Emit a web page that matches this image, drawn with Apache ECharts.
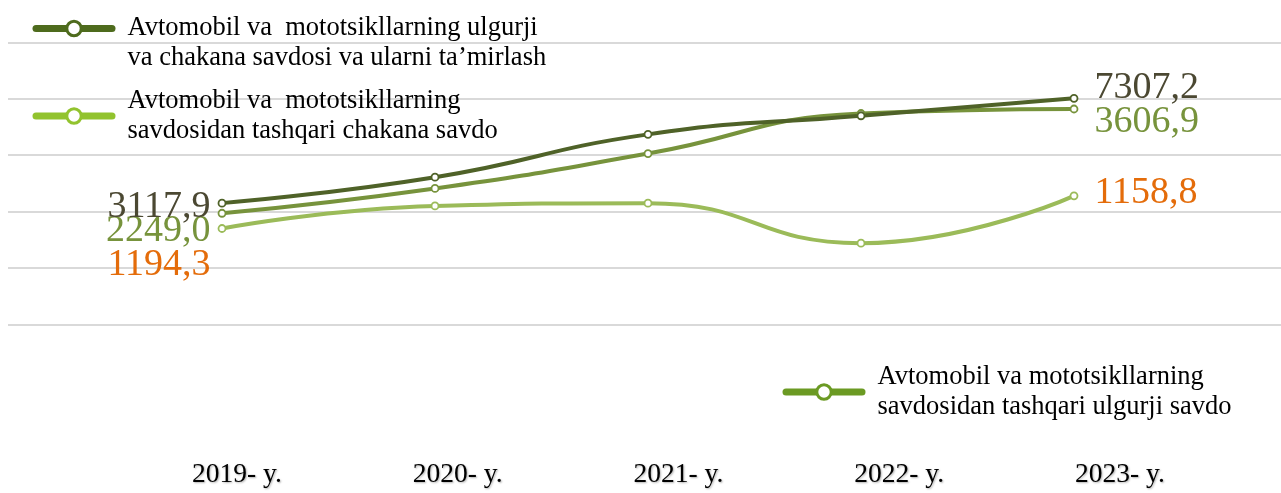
<!DOCTYPE html>
<html>
<head>
<meta charset="utf-8">
<script src="https://cdn.jsdelivr.net/npm/echarts@6/dist/echarts.min.js"></script>
<style>
  html, body { margin: 0; padding: 0; background: #fff; }
  #chart { width: 1281px; height: 493px; }
</style>
</head>
<body>
<div id="chart"></div>
<script>
// categories
var years = ['2019- y.', '2020- y.', '2021- y.', '2022- y.', '2023- y.'];

// series names (line breaks as in the legend)
var nameWholesaleRetail = 'Avtomobil va  mototsikllarning ulgurji\nva chakana savdosi va ularni ta\u2019mirlash';
var nameOutsideRetail = 'Avtomobil va  mototsikllarning\nsavdosidan tashqari chakana savdo';
var nameOutsideWholesale = 'Avtomobil va mototsikllarning\nsavdosidan tashqari ulgurji savdo';

// line heights (grid units, 0..5)
var wholesaleRetail = [2.15, 2.61, 3.37, 3.70, 4.01];
var outsideWholesale = [1.97, 2.41, 3.03, 3.74, 3.82];
var outsideRetail = [1.70, 2.10, 2.15, 1.44, 2.28];

// values written at the ends of the lines
var wholesaleRetailEnds = ['3117,9', '7307,2'];
var outsideWholesaleEnds = ['2249,0', '3606,9'];
var outsideRetailEnds = ['1194,3', '1158,8'];

var serif = '"Liberation Serif", "Times New Roman", serif';
var top0 = 42.5, bottom0 = 168.7;

function endLabel(text, side, color, dy) {
    return {
        show: true,
        position: side,
        distance: side == 'left' ? 7 : 16,
        offset: [0, dy],
        formatter: text,
        color: color,
        fontFamily: serif,
        fontSize: 38
    };
}

function makeSeries(name, values, ends, color, labelColor, dyStart, dyEnd) {
    var last = values.length - 1;
    var data = values.map(function (v, i) {
        var item = {value: v};
        if (i === 0) {
            item.label = endLabel(ends[0], 'left', labelColor, dyStart);
        } else if (i === last) {
            item.label = endLabel(ends[1], 'right', labelColor, dyEnd);
        }
        return item;
    });
    return {
        name: name,
        type: 'line',
        xAxisIndex: 1,
        yAxisIndex: 1,
        smooth: true,
        symbol: 'circle',
        symbolSize: 7,
        lineStyle: {color: color, width: 4},
        itemStyle: {color: '#fff', borderColor: color, borderWidth: 1.8},
        emphasis: {disabled: true},
        data: data
    };
}

function legendItem(name, color) {
    return {
        name: name,
        itemStyle: {color: '#fff', borderColor: color, borderWidth: 3},
        lineStyle: {color: color, width: 7, cap: 'round'}
    };
}

var legendText = {color: '#000', fontFamily: serif, fontSize: 26.5, lineHeight: 30, padding: [0, 0, 0, 10.5]};

var option = {
    animation: false,
    backgroundColor: '#fff',
    grid: [
        {left: 8, right: 0, top: top0, bottom: bottom0},
        {left: 222, right: 207, top: top0, bottom: bottom0},
        {left: 126.6, right: 50.6, top: top0, bottom: bottom0}
    ],
    xAxis: [
        {gridIndex: 0, type: 'value', min: 0, max: 1, show: false},
        {gridIndex: 1, type: 'category', boundaryGap: false, data: years, show: false},
        {
            gridIndex: 2, type: 'category', data: years,
            axisLine: {show: false}, axisTick: {show: false},
            axisLabel: {
                margin: 136, color: '#000', fontFamily: serif, fontSize: 27.5,
                textShadowColor: 'rgba(0,0,0,0.3)', textShadowBlur: 2,
                textShadowOffsetX: 1, textShadowOffsetY: 1
            }
        }
    ],
    yAxis: [
        {
            gridIndex: 0, type: 'value', min: 0, max: 5, interval: 1,
            axisLine: {show: false}, axisTick: {show: false}, axisLabel: {show: false},
            splitLine: {lineStyle: {color: '#d9d9d9', width: 2}}
        },
        {gridIndex: 1, type: 'value', min: 0, max: 5, interval: 1, show: false, splitLine: {show: false}},
        {gridIndex: 2, type: 'value', min: 0, max: 5, interval: 1, show: false, splitLine: {show: false}}
    ],
    legend: [
        {
            // icon sits on the first text line: a blank line above centres it there
            data: [legendItem(nameWholesaleRetail, '#4e6b1d')],
            formatter: function (name) { return '\n' + name; },
            left: 32.5, bottom: 419.5, padding: 0,
            itemWidth: 76, itemHeight: 18,
            selectedMode: false,
            textStyle: legendText
        },
        {
            data: [legendItem(nameOutsideRetail, '#92c32e')],
            left: 32.5, top: 86, padding: 0,
            itemWidth: 76, itemHeight: 18,
            selectedMode: false,
            textStyle: legendText
        },
        {
            data: [legendItem(nameOutsideWholesale, '#6b9a23')],
            left: 782.5, top: 362, padding: 0,
            itemWidth: 76, itemHeight: 18,
            selectedMode: false,
            textStyle: legendText
        }
    ],
    series: [
        makeSeries(nameOutsideRetail, outsideRetail, outsideRetailEnds, '#9bbb59', '#e46c0a', 37, -3),
        makeSeries(nameOutsideWholesale, outsideWholesale, outsideWholesaleEnds, '#77933c', '#77933c', 18, 13),
        makeSeries(nameWholesaleRetail, wholesaleRetail, wholesaleRetailEnds, '#4f6228', '#4b4832', 4, -10)
    ]
};

var chart = echarts.init(document.getElementById('chart'));
chart.setOption(option);
</script>
</body>
</html>
